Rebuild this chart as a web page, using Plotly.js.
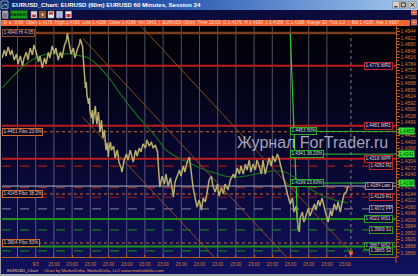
<!DOCTYPE html>
<html><head><meta charset="utf-8">
<script src="https://cdn.plot.ly/plotly-3.0.1.min.js"></script>
<style>
html,body{margin:0;padding:0;background:#0b0b40;overflow:hidden;}
#wrap{position:relative;width:418px;height:276px;overflow:hidden;}
.bg{position:absolute;left:0;}
#titlebar{top:0;height:9.5px;width:418px;background:linear-gradient(to right,#0a246a 0%,#2f5fb5 45%,#a6caf0 100%);}
#toolbar{top:9.5px;height:10px;width:418px;background:#0c0c3c;}
#infobar{top:19.5px;height:6px;width:410px;background:#f26434;}
#chartbg{top:25.5px;height:248px;width:418px;background:linear-gradient(to bottom,#000003 0%,#07072c 50%,#11115e 100%);}
#bottom{top:273.5px;height:3px;width:418px;background:#a8a8b0;}
#leftedge{top:9.5px;height:267px;width:1.3px;background:#9a9aa8;}
#chart{position:absolute;left:0;top:0;width:418px;height:276px;}
</style></head>
<body>
<div id="wrap">
<div class="bg" id="titlebar"></div>
<div class="bg" id="toolbar"></div>
<div class="bg" id="infobar"></div>
<div class="bg" id="chartbg"></div>
<div class="bg" id="bottom"></div>
<div class="bg" id="leftedge"></div>
<div id="chart"></div>
</div>
<script>
// ---------- DATA ----------
// time axis: hours since first bar (60-minute bars)
const priceHours = [0,3,5,8,11,13,16,19,21,24,27,29,32,34,37,40,42,45,48,50,
 53,56,58,61,63,66,69,71,74,77,79,82,85,86,89,91,94,96,99,102,
 103,106,107,108,110,111,112,114,115,116,118,119,120,121,123,124,125,127,128,129,
 131,132,133,135,136,137,139,140,141,143,144,147,149,152,154,157,158,161,164,166,
 169,172,173,176,178,181,183,186,189,191,194,197,199,202,205,206,207,208,211,214,
 216,219,222,224,226,228,231,234,236,239,241,244,247,248,249,251,252,255,257,260,
 263,265,268,270,273,276,278,281,284,286,289,292,294,298,301,305,307,310,313,315,
 318,321,323,326,328,331,334,336,339,342,344,347,350,352,355,357,360,363,365,368,
 371,373,375,377,380,383,385,388,390,392,393,396,398,401,404,406,409,412,414,417,
 419,422,425,427,430,433,435,438,441,443,446,448,451,454,456];
const priceValues = [1.4814,1.4853,1.4824,1.4868,1.4829,1.4853,1.4804,1.4834,1.4784,1.4824,1.4775,1.4814,1.4843,1.4804,1.4863,1.4829,1.4878,1.4843,1.4794,1.4824,
 1.4765,1.4814,1.4784,1.4843,1.4814,1.4873,1.4834,1.4863,1.4804,1.4843,1.4814,1.4873,1.4902,1.4937,1.4873,1.4834,1.4863,1.4814,1.4853,1.4883,
 1.4907,1.4873,1.4814,1.4775,1.4666,1.4696,1.4627,1.4588,1.4617,1.4548,1.4519,1.4558,1.4489,1.4529,1.4578,1.4519,1.4489,1.4548,1.4499,1.4450,
 1.4509,1.4470,1.4420,1.4460,1.4401,1.4361,1.4396,1.4327,1.4371,1.4401,1.4361,1.4381,1.4322,1.4361,1.4302,1.4273,1.4253,1.4312,1.4342,1.4312,
 1.4361,1.4322,1.4302,1.4361,1.4332,1.4371,1.4352,1.4391,1.4371,1.4411,1.4381,1.4401,1.4371,1.4386,1.4352,1.4288,1.4224,1.4179,1.4233,1.4194,
 1.4243,1.4184,1.4224,1.4165,1.4130,1.4204,1.4233,1.4263,1.4233,1.4283,1.4253,1.4302,1.4327,1.4302,1.4253,1.4204,1.4174,1.4125,1.4081,1.4115,
 1.4066,1.4125,1.4106,1.4145,1.4214,1.4233,1.4184,1.4155,1.4194,1.4135,1.4174,1.4145,1.4194,1.4165,1.4214,1.4243,1.4224,1.4273,1.4243,1.4283,
 1.4243,1.4292,1.4263,1.4312,1.4253,1.4292,1.4263,1.4312,1.4283,1.4243,1.4312,1.4243,1.4292,1.4322,1.4283,1.4332,1.4302,1.4342,1.4322,1.4273,
 1.4233,1.4194,1.4165,1.4135,1.4096,1.4125,1.4056,1.4086,1.3988,1.3958,1.4027,1.4056,1.4007,1.4046,1.4076,1.4037,1.4066,1.4096,1.4066,1.4115,
 1.4086,1.4125,1.4076,1.4046,1.4007,1.4066,1.4037,1.4096,1.4066,1.4106,1.4056,1.4096,1.4145,1.4155,1.4184];

const maHours  = [0,11,24,37,50,63,77,90,103,114,123,132,143,156,169,182,195,205,215,228,241,255,268,281,294,307,321,334,347,360,373,386,400,413,426,439,456];
const maValues = [1.4666,1.4711,1.4760,1.4799,1.4824,1.4834,1.4834,1.4834,1.4824,1.4814,1.4789,1.4755,1.4706,1.4637,1.4573,1.4514,1.4460,1.4416,1.4366,1.4332,1.4307,1.4283,1.4263,1.4248,1.4233,1.4228,1.4233,1.4243,1.4253,1.4258,1.4253,1.4224,1.4184,1.4155,1.4130,1.4115,1.4101];

// descending channel lines: start/end
const channelStartHours = [106, 106, 183];
const channelStartValues = [1.4524, 1.4912, 1.4971];
const channelEndHours = [281, 375, 462];
const channelEndValues = [1.3830, 1.3835, 1.3850];

// auto fibonacci (high -> low)
const fibHours = [380, 390];
const fibValues = [1.4934, 1.3972];
const fibLevels = [1.4453, 1.4341, 1.4199];
const fibLabels = ['1.4453 50%', '1.4341 38.20%', '1.4199 23.60%'];

// pivot / level lines
const leftLevelValues = [1.4937, 1.4451, 1.4145, 1.3904];
const leftLevelLabels = ['1.4940 Hi 4.05', '1.4451 Fibo 23.6%', '1.4145 Fibo 38.2%', '1.3904 Fibo 50%'];
const rightLevelValues = [1.4776, 1.4481, 1.4318, 1.4282, 1.4184, 1.4176, 1.4129, 1.4072, 1.4022, 1.3969, 1.3887, 1.3865];
const rightLevelLabels = ['1.4776 WR2', '1.4481 WR1', '1.4318 WPP', '1.4282 R2', '1.4184 Last', '', '1.4129 R1', '1.4072 PP', '1.4022 WS1', '1.3969 S1', '1.3887 WS2', '1.3865 S2'];

// axis ticks
const priceTicks = [1.3856,1.3888,1.3920,1.3952,1.3984,1.4016,1.4048,1.4080,1.4112,1.4144,1.4176,1.4208,1.4240,1.4272,1.4304,1.4336,1.4368,1.4400,1.4432,1.4464,1.4496,1.4528,1.4560,1.4592,1.4624,1.4656,1.4688,1.4720,1.4752,1.4784,1.4816,1.4848,1.4880,1.4912,1.4944];
const dayGridHours = [20.3,44.3,68.3,92.3,116.3,140.3,164.3,188.3,212.3,236.3,260.3,284.3,308.3,332.3,356.3,380.3,404.3,428.3];
const dayLabelHours = [20.3,44.3,68.3,92.3,116.3,140.3,164.3,188.3,212.3,236.3,260.3,284.3,308.3,332.3,356.3,380.3,404.3,428.3,452.3];
const dayLabels = ['','9/3','23:00','23:00','23:00','23:00','23:00','23:00','23:00','23:00','23:00','23:00','23:00','23:00','23:00','23:00','23:00','23:00','23:00'];
const currentBarHour = 460;

// ---------- STYLES ----------
const leftStyles = [
 {color:'#7e3c1c', width:2.5, dash:'solid', box:'#8a4a2a', txt:'#e8b8a0'},
 {color:'#d0682a', width:1, dash:'dot', box:'#d0682a', txt:'#f0c8a8'},
 {color:'#d0682a', width:1, dash:'dot', box:'#d0682a', txt:'#f0c8a8'},
 {color:'#d0682a', width:1, dash:'dot', box:'#d0682a', txt:'#f0c8a8'}];
const RED='#bc1c1c', GRN='#1f8f1f';
const rightStyles = [
 {color:RED, width:2, dash:'solid', box:'#c02424'},
 {color:RED, width:2, dash:'solid', box:'#c02424'},
 {color:RED, width:2, dash:'solid', box:'#c02424'},
 {color:'#a81a1a', width:1.2, dash:'dash', box:'#c02424'},
 {color:'#b4b4c4', width:1, dash:'solid', box:'#8a8ab0'},
 {color:'#8a2a2a', width:1.2, dash:'dash', box:'#c02424'},
 {color:'#a81a1a', width:1.2, dash:'dash', box:'#c02424'},
 {color:'#70708a', width:1.2, dash:'dash', box:'#7a7aa8'},
 {color:GRN, width:2, dash:'solid', box:'#22a022'},
 {color:'#1a7a1a', width:1.2, dash:'dash', box:'#22a022'},
 {color:GRN, width:2, dash:'solid', box:'#22a022'},
 {color:'#1a7a1a', width:1.2, dash:'dash', box:'#22a022'}];

// ---------- GEOMETRY ----------
const W=418, H=276, ML=2, MR=22, MT=26, MB=19;
const PW=W-ML-MR, PH=H-MT-MB;
const X = v => (v-ML)/PW;       // pixel -> paper
const Y = v => (H-MB-v)/PH;
const xRange = [-0.13, 519.45];
const yRange = [1.38351, 1.49713];
const FONT = 'Liberation Sans, Arial, sans-serif';

// tick labels that sit under a green price marker are covered in the original
const priceTickText = priceTicks.map(t => fibLevels.some(f => Math.abs(f - t) < 0.0013) ? '' : t.toFixed(4));

const shapes = [];
const ann = [];

// day grid
dayGridHours.forEach(h => shapes.push({type:'line', xref:'x', yref:'paper', x0:h, x1:h, y0:0, y1:1,
  line:{color:'rgba(150,150,175,0.55)', width:1}, layer:'below'}));
shapes.push({type:'line', xref:'x', yref:'paper', x0:currentBarHour, x1:currentBarHour, y0:0, y1:1,
  line:{color:'rgba(170,170,170,0.75)', width:1, dash:'dot'}, layer:'below'});

// levels
leftLevelValues.forEach((v,i) => {
  const s = leftStyles[i];
  shapes.push({type:'line', xref:'paper', yref:'y', x0:0, x1:1, y0:v, y1:v, line:{color:s.color, width:s.width, dash:s.dash}, layer:'below'});
  ann.push({xref:'paper', yref:'y', x:X(2.4), y:v, xanchor:'left', yanchor:'middle', text:leftLevelLabels[i], showarrow:false,
    font:{family:FONT, size:4.6, color:s.txt}, bgcolor:'#0a0a28', bordercolor:s.box, borderwidth:1, borderpad:0.4});
});
rightLevelValues.forEach((v,i) => {
  const s = rightStyles[i];
  shapes.push({type:'line', xref:'paper', yref:'y', x0:0, x1:1, y0:v, y1:v, line:{color:s.color, width:s.width, dash:s.dash}, layer:'below'});
  if (rightLevelLabels[i]) ann.push({xref:'paper', yref:'y', x:X(393.4), y:v, xanchor:'right', yanchor:'middle', text:rightLevelLabels[i], showarrow:false,
    font:{family:FONT, size:4.6, color:'#e0d4dc'}, bgcolor:'#0a0a30', bordercolor:s.box, borderwidth:1, borderpad:0.4});
});
// fib levels
fibLevels.forEach((v,i) => {
  shapes.push({type:'line', xref:'x', yref:'y', x0:fibHours[0], x1:xRange[1], y0:v, y1:v, line:{color:'#30c030', width:1}, layer:'below'});
  ann.push({xref:'x', yref:'y', x:fibHours[0], y:v, xanchor:'left', yanchor:'middle', text:fibLabels[i], showarrow:false,
    font:{family:FONT, size:4.6, color:'#b8f0b8'}, bgcolor:'#0a0a30', bordercolor:'#28b028', borderwidth:1, borderpad:0.4});
  ann.push({xref:'paper', yref:'y', x:X(397.5), y:v, xanchor:'left', yanchor:'middle', text:v.toFixed(4), showarrow:false,
    font:{family:FONT, size:4.6, color:'#043804'}, bgcolor:'#2ee02e', borderpad:0.5});
});

// watermark
ann.push({xref:'paper', yref:'paper', x:X(235), y:Y(142.3), xanchor:'left', yanchor:'middle', text:'Журнал ForTrader.ru', showarrow:false,
  font:{family:FONT, size:16, color:'rgba(210,210,225,0.78)'}});

// ---------- WINDOW CHROME ----------
function rect(x0,y0,x1,y1,fill,lc,lw){ shapes.push({type:'rect', xref:'paper', yref:'paper', x0:X(x0), x1:X(x1), y0:Y(y1), y1:Y(y0),
  fillcolor:fill, line:{color:lc||fill, width:lw===undefined?(lc?0.8:0):lw}, layer:'above'}); }
function seg(x0,y0,x1,y1,c,w){ shapes.push({type:'line', xref:'paper', yref:'paper', x0:X(x0), x1:X(x1), y0:Y(y0), y1:Y(y1), line:{color:c, width:w||1}, layer:'above'}); }
function txt(x,y,t,size,color,anchor,bold){ ann.push({xref:'paper', yref:'paper', x:X(x), y:Y(y), xanchor:anchor||'left', yanchor:'middle',
  text:bold?'<b>'+t+'</b>':t, showarrow:false, font:{family:FONT, size:size, color:color}}); }

// title bar
rect(1,1,8,8.3,'#0e2a70','#d8e0f0',0.6); seg(2,7,4.5,4,'#40e040',1); seg(4.5,4,7,5.5,'#ffffff',0.8);
txt(10,4.9,'EURUSD_Chart: EURUSD (60m) EURUSD 60 Minutes, Session 34',6.1,'#ffffff','left',true);
rect(392.5,1.3,399.5,8.2,'#d4d0c8','#6a6a6a',0.5); seg(394,6.8,397.5,6.8,'#000',1);
rect(399.8,1.3,406.8,8.2,'#d4d0c8','#6a6a6a',0.5); rect(401.3,2.8,405.3,6.8,'rgba(0,0,0,0)','#000',0.8);
rect(408.8,1.3,416.2,8.2,'#d4d0c8','#6a6a6a',0.5); seg(410.5,3,414.5,6.6,'#000',0.9); seg(410.5,6.6,414.5,3,'#000',0.9);
// toolbar
rect(2.5,11,8,18.3,'#7a7a84','#c0c0c8',0.6); seg(3.5,12.2,7,12.2,'#e0e0e0',0.8);
rect(10.5,10.6,27.5,18.6,'#1a9c1a','#0c5c0c',0.8);
txt(19,14.7,'MARKET',4.3,'#062a06','center',true);
rect(31,11.2,37,18,'#d8d8d8','#8a8a8a',0.5); rect(32.2,14.5,35.8,17,'#c83030');
rect(39.5,11.2,45.5,18,'#8a5a2a','#c09060',0.5); shapes.push({type:'circle',xref:'paper',yref:'paper',x0:X(40.8),x1:X(44.2),y0:Y(16.8),y1:Y(12.4),fillcolor:'#e8b070',line:{color:'#6a3a10',width:0.6},layer:'above'});
rect(48,11.2,54,18,'#e8e8e8','#8a8a8a',0.5); rect(49,12.2,53,14.6,'#d83030');
rect(56.5,11.2,62.5,18,'#e8e8ff','#8a8a8a',0.5); seg(57.5,13,61.5,13,'#3050c0',0.8); seg(57.5,15,61.5,15,'#3050c0',0.8); seg(57.5,17,61.5,17,'#3050c0',0.8);
rect(65.5,11.2,71.5,18,'#e8e8e8','#8a8a8a',0.5); rect(66.5,14,70.5,17,'#c83030');
rect(411.5,10.5,416.5,14.8,'#e85a30','#ffb090',0.5); seg(412.8,12.7,415.2,12.7,'#fff',0.8);
// info bar text
txt(2,22.6,'0  \u25CF  0:00  Open 1.4176  High 1.4190  Low 1.4168  Close 1.4186  Vol 1842  |  EURUSD (60m)  Time 22:00  O 1.4176  H 1.4190  L 1.4168  C 1.4186  Range 22  Tick 1.0  |  Bid 1.4185  Ask 1.4187',4.6,'#ffd8c4','left',false);
rect(411.5,19.8,416.5,25,'#e85a30','#ffb090',0.5); seg(412.8,22.4,415.2,22.4,'#fff',0.8);
// axis line extension below the plot
seg(396,257,396,263,'#b05a20',1);
// status bar
txt(5,270,'EURUSD_Chart',4.3,'#e8c898','left',false);
txt(42,270,'Chart by MarketDelta, MarketDelta, LLC www.marketdelta.com',4.3,'#e0a050','left',false);

// ---------- TRACES ----------
const traces = [];
for (let i=0;i<channelStartHours.length;i++){
  traces.push({type:'scatter', mode:'lines', x:[channelStartHours[i], channelEndHours[i]], y:[channelStartValues[i], channelEndValues[i]],
    line:{color:'#9a5020', width:0.9}, hoverinfo:'skip'});
}
traces.push({type:'scatter', mode:'markers', x:[channelEndHours[2]-2], y:[channelEndValues[2]+0.0005], marker:{color:'#ff6a1a', size:3.5, symbol:'square'}, hoverinfo:'skip'});
traces.push({type:'scatter', mode:'lines', x:maHours, y:maValues, line:{color:'#1c6c1c', width:1.2, shape:'spline'}, hoverinfo:'skip'});
traces.push({type:'scatter', mode:'lines', x:priceHours, y:priceValues, line:{color:'#b6ae6a', width:1.5}, hoverinfo:'skip'});
traces.push({type:'scatter', mode:'lines', x:fibHours, y:fibValues, line:{color:'#2ad02a', width:1.2}, hoverinfo:'skip'});

const layout = {
  width:W, height:H, margin:{l:ML, r:MR, t:MT, b:MB, pad:0},
  paper_bgcolor:'rgba(0,0,0,0)', plot_bgcolor:'rgba(0,0,0,0)',
  showlegend:false, font:{family:FONT},
  xaxis:{range:xRange, tickmode:'array', tickvals:dayLabelHours, ticktext:dayLabels, showgrid:false, zeroline:false,
    ticks:'inside', ticklen:2, tickcolor:'#c06020', tickfont:{family:FONT, size:4.6, color:'#d07a38'},
    showline:true, linecolor:'#b05a20', linewidth:1, ticklabelstandoff:2},
  yaxis:{range:yRange, side:'right', tickmode:'array', tickvals:priceTicks, ticktext:priceTickText, showgrid:false, zeroline:false,
    ticks:'outside', ticklen:2.5, tickcolor:'#c06020', tickfont:{family:FONT, size:5, color:'#d87a30'},
    showline:true, linecolor:'#b05a20', linewidth:1,
    minor:{tickmode:'linear', tick0:1.3872, dtick:0.0032, ticks:'outside', ticklen:1.5, tickcolor:'#a05020', showgrid:false}},
  shapes:shapes, annotations:ann
};
Plotly.newPlot('chart', traces, layout, {staticPlot:true, displayModeBar:false});
</script>
</body></html>
